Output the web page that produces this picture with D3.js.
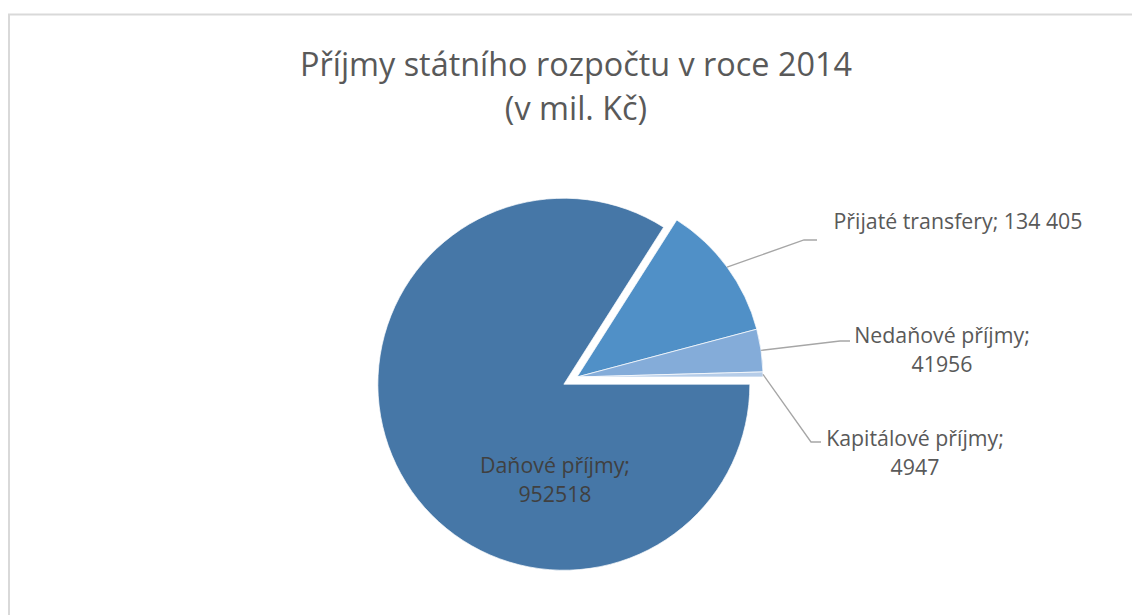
<!DOCTYPE html>
<html>
<head>
<meta charset="utf-8">
<script src="https://cdn.jsdelivr.net/npm/d3@7"></script>
<style>
  body { margin: 0; background: #fff; }
  svg { display: block; }
  text { font-family: "Open Sans", "Noto Sans", sans-serif; }
</style>
</head>
<body>
<svg width="1132" height="615"></svg>
<script>
// data
const categories = ["Daňové příjmy", "Přijaté transfery", "Nedaňové příjmy", "Kapitálové příjmy"];
const values = [952518, 134405, 41956, 4947];
const valueLabels = ["952518", "134 405", "41956", "4947"];
const colors = ["#4677a7", "#5090c7", "#84acd9", "#b5cce8"];
const titleLines = ["Příjmy státního rozpočtu v roce 2014", "(v mil. Kč)"];

const svg = d3.select("svg");
const width = +svg.attr("width");
const height = +svg.attr("height");

// chart frame
svg.append("rect")
    .attr("x", 9).attr("y", 14.5)
    .attr("width", 1300).attr("height", 800)
    .attr("fill", "none")
    .attr("stroke", "#d9d9d9")
    .attr("stroke-width", 2);

// nastaví šířku textu (Calibri má jiné proporce než Open Sans)
function squeeze(sel, target) {
    const w = sel.node().getComputedTextLength();
    sel.attr("textLength", target).attr("lengthAdjust", "spacingAndGlyphs");
    return w / target;
}

// title
const title = svg.append("g").attr("fill", "#595959").attr("font-size", 32);
const t1 = title.append("text").attr("x", 576).attr("y", 76)
    .attr("text-anchor", "middle").text(titleLines[0]);
const k = squeeze(t1, 552);
const t2 = title.append("text").attr("x", 576).attr("y", 120)
    .attr("text-anchor", "middle").text(titleLines[1]);
squeeze(t2, t2.node().getComputedTextLength() / k);

// pie
const cx = 577, cy = 377, r = 186;
const explode = 15;

const pie = d3.pie()
    .sort(null)
    .startAngle(Math.PI / 2)
    .endAngle(Math.PI / 2 + Math.PI * 2)
    .value(d => d);

const arcs = pie(values);
const arc = d3.arc().innerRadius(0).outerRadius(r);

const g = svg.append("g").attr("transform", `translate(${cx},${cy})`);

g.selectAll("path")
    .data(arcs)
    .join("path")
    .attr("d", arc)
    .attr("fill", (d, i) => colors[i])
    .attr("stroke", "#fff")
    .attr("stroke-width", 0.7)
    .attr("transform", (d, i) => {
        if (i !== 0) return null;
        const a = (d.startAngle + d.endAngle) / 2;
        return `translate(${explode * Math.sin(a)},${-explode * Math.cos(a)})`;
    });

// labels (pozice popisků)
const labelPos = [
    {x: 555, y: 473, lines: [categories[0] + ";", valueLabels[0]], bend: null},
    {x: 958, y: 229, lines: [categories[1] + "; " + valueLabels[1]], bend: [804, 240, 817, 240]},
    {x: 942, y: 343, lines: [categories[2] + ";", valueLabels[2]], bend: [840, 341, 850, 341]},
    {x: 915, y: 446, lines: [categories[3] + ";", valueLabels[3]], bend: [811, 442, 821, 442]}
];

// vodicí čáry
arcs.forEach((d, i) => {
    const L = labelPos[i];
    if (!L.bend) return;
    const a = (d.startAngle + d.endAngle) / 2;
    const sx = cx + r * Math.sin(a);
    const sy = cy - r * Math.cos(a);
    svg.append("path")
        .attr("d", d3.line()([[sx, sy], [L.bend[0], L.bend[1]], [L.bend[2], L.bend[3]]]))
        .attr("fill", "none")
        .attr("stroke", "#a6a6a6")
        .attr("stroke-width", 1.3);
});

// texty popisků
const probe = svg.append("text").attr("font-size", 21).text(categories[1] + "; " + valueLabels[1]);
const lk = probe.node().getComputedTextLength() / 249;
probe.remove();

labelPos.forEach((L, i) => {
    L.lines.forEach((line, j) => {
        const t = svg.append("text")
            .attr("font-size", 21)
            .attr("fill", i === 0 ? "#404040" : "#595959")
            .attr("text-anchor", "middle")
            .attr("x", L.x)
            .attr("y", L.y + j * 29)
            .text(line);
        squeeze(t, t.node().getComputedTextLength() / lk);
    });
});
</script>
</body>
</html>
